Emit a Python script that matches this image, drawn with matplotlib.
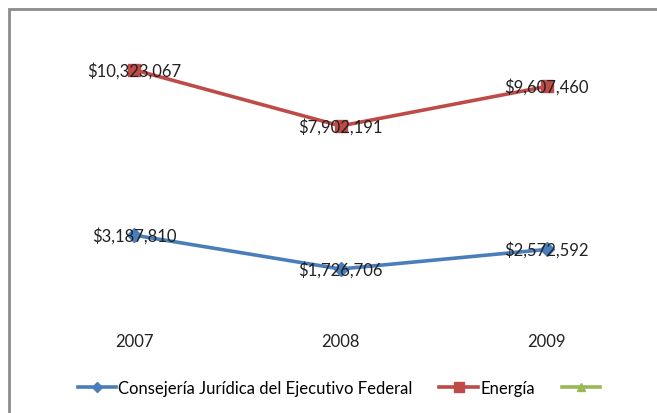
import matplotlib

matplotlib.use("Agg")
import matplotlib.pyplot as plt  # noqa: E402
from matplotlib.patches import Rectangle  # noqa: E402

years = ["2007", "2008", "2009"]
consejeria = [3187810, 1726706, 2572592]
energia = [10323067, 7902191, 9607460]
series_names = ["Consejería Jurídica del Ejecutivo Federal", "Energía", ""]

C = {"blue": "#4a7ebb", "red": "#be4b48", "green": "#98b954", "ink": "#222222", "frame": "#8c8c8c"}

plt.rcParams.update({"font.family": ["Lato", "DejaVu Sans"], "font.size": 12})

W, H = 657, 414
fig = plt.figure(figsize=(W / 100, H / 100), dpi=100)
fig.patch.set_facecolor("white")

# outer chart frame (runs off the right and bottom edge)
fig.patches.append(Rectangle((8.5 / W, -0.1), 1.2, 1.1 - 9.5 / H, transform=fig.transFigure,
                             fill=False, edgecolor=C["frame"], linewidth=2.0))

ax = fig.add_axes([31 / W, 1 - 310 / H, (650 - 31) / W, (310 - 32) / H])
ax.set_facecolor("none")
x = list(range(len(years)))

l1, = ax.plot(x, consejeria, color=C["blue"], linewidth=2.6, marker="D", markersize=7,
              label=series_names[0])
l2, = ax.plot(x, energia, color=C["red"], linewidth=2.6, marker="s", markersize=9,
              label=series_names[1])
l3, = ax.plot([], [], color=C["green"], linewidth=2.6, marker="^", markersize=8,
              label=series_names[2])

for vals in (consejeria, energia):
    for xi, v in zip(x, vals):
        ax.text(xi, v, f"${v:,.0f}", ha="center", va="center", color=C["ink"], fontsize=12)

ax.set_xlim(-0.5, len(years) - 0.5)
ax.set_ylim(0, 12000000)
ax.set_xticks(x)
ax.set_xticklabels(years, fontsize=12, color=C["ink"])
ax.tick_params(axis="x", length=0, pad=17)
ax.set_yticks([])
for s in ax.spines.values():
    s.set_visible(False)

fig.legend([l1, l2, l3], series_names, loc="center", ncol=3,
           bbox_to_anchor=(340 / W, 1 - 389 / H), frameon=False, fontsize=12,
           handlelength=2.3, handletextpad=0.15, columnspacing=1.6, markerscale=0.8)

fig.savefig("out.png", dpi=100, facecolor="white")
